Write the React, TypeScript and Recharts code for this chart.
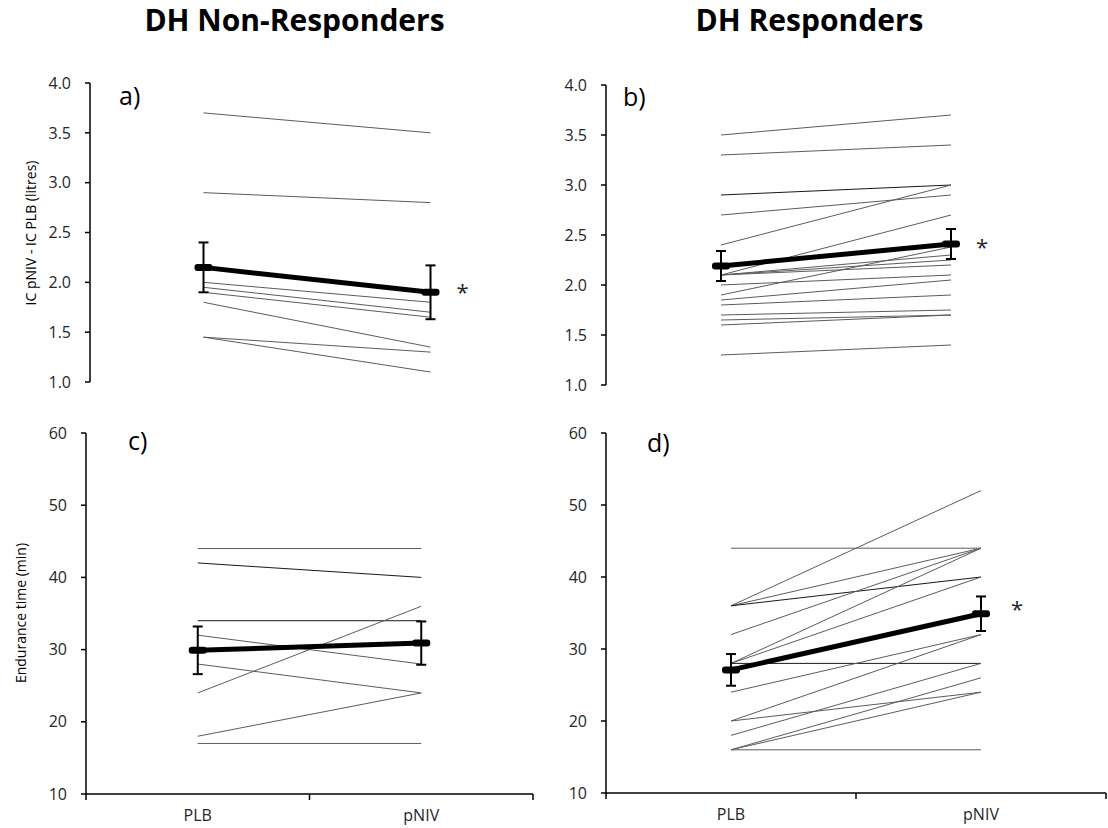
import { LineChart, Line, XAxis, YAxis, ErrorBar, LabelList } from "recharts";

const categories = ["PLB", "pNIV"];
const xTicks = [-0.5, 0, 0.5, 1, 1.5];
const icTicks = [1.0, 1.5, 2.0, 2.5, 3.0, 3.5, 4.0];
const timeTicks = [10, 20, 30, 40, 50, 60];

// a) IC, DH non-responders
const icNonPlb = [3.7, 2.9, 2.0, 1.95, 1.9, 1.8, 1.45, 1.45];
const icNonNiv = [3.5, 2.8, 1.8, 1.7, 1.65, 1.35, 1.3, 1.1];
const icNonMean = [2.15, 1.9];
const icNonErr = [0.25, 0.27];

// b) IC, DH responders
const icResPlb = [3.5, 3.3, 2.9, 2.7, 2.4, 2.1, 2.1, 2.1, 2.1, 2.0, 1.9, 1.85, 1.8, 1.7, 1.65, 1.6, 1.3];
const icResNiv = [3.7, 3.4, 3.0, 2.9, 3.0, 2.7, 2.3, 2.25, 2.2, 2.1, 2.38, 2.05, 1.9, 1.75, 1.7, 1.7, 1.4];
const icResMean = [2.19, 2.41];
const icResErr = [0.15, 0.15];

// c) endurance time, DH non-responders
const timeNonPlb = [44, 42, 34, 32, 28, 24, 18, 17];
const timeNonNiv = [44, 40, 34, 28, 24, 36, 24, 17];
const timeNonMean = [29.9, 30.9];
const timeNonErr = [3.3, 3.0];

// d) endurance time, DH responders
const timeResPlb = [44, 36, 36, 36, 32, 28, 28, 28, 24, 20, 20, 18, 16, 16, 16];
const timeResNiv = [44, 52, 44, 40, 44, 44, 40, 28, 32, 32, 24, 28, 26, 24, 16];
const timeResMean = [27.1, 34.9];
const timeResErr = [2.2, 2.4];

const buildData = (plb: number[], niv: number[], mean: number[], err: number[]) =>
  [0, 1].map((i) => {
    const row: any = { x: i, mean: mean[i], err: err[i] };
    plb.forEach((v, k) => {
      row[`s${k}`] = i === 0 ? v : niv[k];
    });
    return row;
  });

// category labels at 0 / 1, tick marks between categories (Excel style)
const CategoryTick = (props: any) => {
  const { x, y, payload } = props;
  const v = payload.value;
  if (Number.isInteger(v)) {
    return (
      <text x={x} y={y + 27} textAnchor="middle" fontSize={16} fill="#262626">
        {categories[v]}
      </text>
    );
  }
  return <line x1={x} y1={y} x2={x} y2={y + 6} stroke="#000" strokeWidth={1.5} />;
};

const MeanDot = (props: any) => {
  const { cx, cy, index } = props;
  return <rect key={`md${index}`} x={cx - 9} y={cy - 3.5} width={18} height={7} rx={3} fill="#000" />;
};

const Panel = ({ box, margin, yWidth, domain, ticks, decimals, plb, niv, mean, err, dark = [], star, showX = false, xHeight = 0 }: any) => {
  const data = buildData(plb, niv, mean, err);
  return (
    <div style={{ position: "absolute", left: box.left, top: box.top }}>
      <LineChart width={box.width} height={box.height} data={data} margin={margin}>
        <XAxis
          type="number"
          dataKey="x"
          domain={[-0.5, 1.5]}
          ticks={xTicks}
          interval={0}
          hide={!showX}
          height={xHeight}
          tickSize={0}
          tickMargin={0}
          tickLine={false}
          axisLine={{ stroke: "#000", strokeWidth: 1.5 }}
          tick={(p: any) => <CategoryTick {...p} />}
        />
        <YAxis
          type="number"
          domain={domain}
          ticks={ticks}
          interval={0}
          width={yWidth}
          tickSize={5}
          tickMargin={14}
          axisLine={{ stroke: "#000", strokeWidth: 1.5 }}
          tickLine={{ stroke: "#000", strokeWidth: 1.5 }}
          tick={{ fontSize: 16, fill: "#262626" }}
          tickFormatter={(v: number) => v.toFixed(decimals)}
        />
        {plb.map((_: number, k: number) => (
          <Line
            key={k}
            type="linear"
            dataKey={`s${k}`}
            stroke={dark.includes(k) ? "#1a1a1a" : "#5c5c5c"}
            strokeWidth={1}
            dot={false}
            activeDot={false}
            isAnimationActive={false}
          />
        ))}
        <Line
          type="linear"
          dataKey="mean"
          stroke="#000"
          strokeWidth={5}
          dot={MeanDot}
          activeDot={false}
          isAnimationActive={false}
        >
          <ErrorBar dataKey="err" direction="y" width={5} stroke="#000" strokeWidth={2} />
          {star && (
            <LabelList
              dataKey="mean"
              content={(p: any) =>
                p.index === 1 ? (
                  <text x={p.x + star.dx} y={p.y + star.dy + 12} textAnchor="middle" fontSize={22} fill="#262626">
                    *
                  </text>
                ) : null
              }
            />
          )}
        </Line>
      </LineChart>
    </div>
  );
};

export default function App() {
  return (
    <div
      style={{
        position: "absolute",
        left: 0,
        top: 0,
        width: 1108,
        height: 828,
        background: "#fff",
        fontFamily: "'Open Sans', sans-serif",
      }}
    >
      <Panel
        box={{ left: 0, top: 60, width: 554, height: 340 }}
        margin={{ top: 23, right: 10, bottom: 18, left: 0 }}
        yWidth={90}
        domain={[1, 4]}
        ticks={icTicks}
        decimals={1}
        plb={icNonPlb}
        niv={icNonNiv}
        mean={icNonMean}
        err={icNonErr}
        star={{ dx: 32, dy: -4 }}
      />
      <Panel
        box={{ left: 554, top: 60, width: 554, height: 340 }}
        margin={{ top: 25, right: 42, bottom: 15, left: 0 }}
        yWidth={52}
        domain={[1, 4]}
        ticks={icTicks}
        decimals={1}
        plb={icResPlb}
        niv={icResNiv}
        mean={icResMean}
        err={icResErr}
        dark={[2]}
        star={{ dx: 31, dy: -1 }}
      />
      <Panel
        box={{ left: 0, top: 410, width: 554, height: 418 }}
        margin={{ top: 23, right: 21, bottom: 0, left: 0 }}
        yWidth={86}
        domain={[10, 60]}
        ticks={timeTicks}
        decimals={0}
        plb={timeNonPlb}
        niv={timeNonNiv}
        mean={timeNonMean}
        err={timeNonErr}
        dark={[1, 2]}
        showX
        xHeight={34}
      />
      <Panel
        box={{ left: 554, top: 410, width: 554, height: 418 }}
        margin={{ top: 23, right: 2, bottom: 0, left: 0 }}
        yWidth={52}
        domain={[10, 60]}
        ticks={timeTicks}
        decimals={0}
        plb={timeResPlb}
        niv={timeResNiv}
        mean={timeResMean}
        err={timeResErr}
        dark={[3, 7]}
        star={{ dx: 36, dy: -9 }}
        showX
        xHeight={35}
      />
      <svg
        width={1108}
        height={828}
        style={{ position: "absolute", left: 0, top: 0, pointerEvents: "none" }}
      >
        <text x={294.5} y={31} textAnchor="middle" fontSize={30} fontWeight="bold" fill="#000">
          DH Non-Responders
        </text>
        <text x={809.5} y={31} textAnchor="middle" fontSize={30} fontWeight="bold" fill="#000">
          DH Responders
        </text>
        <text x={119} y={105} fontSize={25} fill="#000">a)</text>
        <text x={623} y={106} fontSize={25} fill="#000">b)</text>
        <text x={128} y={450} fontSize={25} fill="#000">c)</text>
        <text x={647} y={452} fontSize={25} fill="#000">d)</text>
        <text
          x={30}
          y={233}
          fontSize={14}
          fill="#000"
          textAnchor="middle"
          dominantBaseline="central"
          transform="rotate(-90 30 233)"
        >
          IC pNIV - IC PLB (litres)
        </text>
        <text
          x={20}
          y={613}
          fontSize={14}
          fill="#000"
          textAnchor="middle"
          dominantBaseline="central"
          transform="rotate(-90 20 613)"
        >
          Endurance time (min)
        </text>
      </svg>
    </div>
  );
}
